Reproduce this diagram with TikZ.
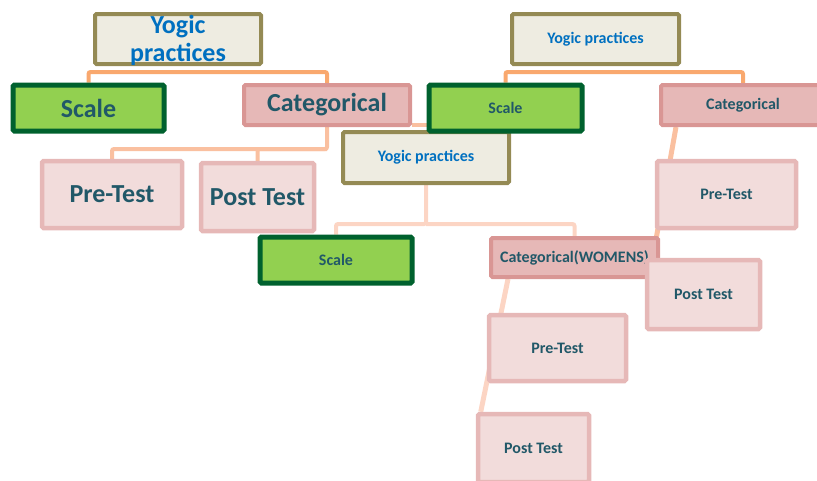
\documentclass[tikz,border=0pt]{standalone}
\usepackage{fontspec}
\setmainfont{Carlito}
\usetikzlibrary{calc,backgrounds}
\definecolor{olivebd}{HTML}{948A54}
\definecolor{creamfill}{HTML}{EEECE1}
\definecolor{yogablue}{HTML}{0070C0}
\definecolor{darkgreen}{HTML}{00612E}
\definecolor{scalegreen}{HTML}{92D050}
\definecolor{catline}{HTML}{D99694}
\definecolor{catfill}{HTML}{E6B8B7}
\definecolor{testline}{HTML}{E6B8B7}
\definecolor{testfill}{HTML}{F2DCDB}
\definecolor{tealtxt}{HTML}{215868}
\definecolor{linkdark}{HTML}{F9A86E}
\definecolor{linkmid}{HTML}{FAC0A0}
\definecolor{linklight}{HTML}{FCD5C4}
\begin{document}
\begin{tikzpicture}[x=1pt,y=-1pt,
    box/.style={rectangle,rounded corners=1.5pt,inner sep=0pt,
      font=\bfseries\fontsize{16}{18}\selectfont,text=tealtxt},
    big/.style={font=\bfseries\fontsize{26}{28}\selectfont},
    yogabox/.style={box,draw=olivebd,fill=creamfill,line width=4pt,text=yogablue},
    scalebox/.style={box,draw=darkgreen,fill=scalegreen,line width=5pt},
    catbox/.style={box,draw=catline,fill=catfill,line width=4pt},
    testbox/.style={box,draw=testline,fill=testfill,line width=4.5pt},
    link1/.style={draw=linkdark,line width=4pt,rounded corners=2pt},
    link2/.style={draw=linkmid,line width=4pt,rounded corners=2pt},
    link3/.style={draw=linklight,line width=4pt,rounded corners=2pt}]
  \clip (0,0) rectangle (817,480);

  % first tree
  \node[yogabox,minimum width=166pt,minimum height=50pt] (yoga1) at (178,39) {};
  \node[big,text=yogablue,align=center] (yoga1txt) at (178,40) {Yogic\\practices};
  \node[scalebox,big,minimum width=151pt,minimum height=46pt] (scale1) at (88.5,108) {Scale};
  \node[catbox,big,minimum width=166pt,minimum height=40pt] (cat1) at (327,105) {Categorical};
  \node[testbox,big,minimum width=140pt,minimum height=67pt] (pre1) at (112,194.5) {Pre-Test};
  \node[testbox,big,minimum width=113pt,minimum height=68pt] (post1) at (257.5,197) {Post Test};

  % third tree
  \node[yogabox,minimum width=166pt,minimum height=51pt] (yoga3) at (426,157.5) {Yogic practices};
  \node[scalebox,minimum width=152pt,minimum height=46pt] (scale3) at (336,260) {Scale};
  \node[catbox,minimum width=167pt,minimum height=39pt] (cat3) at (574.5,257.5) {Categorical(WOMENS)};
  \node[testbox,minimum width=137pt,minimum height=66pt] (pre3) at (557.5,348) {Pre-Test};
  \node[testbox,minimum width=111pt,minimum height=68pt] (post3) at (533.5,448) {Post Test};

  % second tree
  \node[yogabox,minimum width=167pt,minimum height=50pt] (yoga2) at (595.5,39) {Yogic practices};
  \node[scalebox,minimum width=153pt,minimum height=46pt] (scale2) at (505.5,108) {Scale};
  \node[catbox,minimum width=164pt,minimum height=40pt] (cat2) at (743,105) {Categorical};
  \node[testbox,minimum width=139pt,minimum height=67pt] (pre2) at (726.5,194.5) {Pre-Test};
  \node[testbox,minimum width=113pt,minimum height=69pt] (post2) at (703.5,294.5) {Post Test};

  % connectors, behind the boxes
  \begin{scope}[on background layer]
    \coordinate (fork1) at ($(yoga1.south)+(0,6)$);
    \draw[link1] (scale1.north) |- (fork1) -| (cat1.north);
    \coordinate (fork2) at ($(cat1.south)+(0,22)$);
    \draw[link2] (cat1.south) -- (fork2) -| (pre1.north);
    \draw[link2] (fork2) -| (post1.north);
    \draw[link2] (cat1.east |- 0,125) -- (scale2.west |- 0,125);

    \coordinate (fork3) at ($(yoga2.south)+(0,6)$);
    \draw[link1] (scale2.north) |- (fork3) -| (cat2.north);
    \draw[link2,line width=5pt] ($(cat2.south west)+(17,0)$) -- ($(post2.north west)+(8,0)$);

    \coordinate (fork4) at ($(yoga3.south)+(0,39)$);
    \draw[link3] (yoga3.south) -- (fork4) -| (scale3.north);
    \draw[link3] (fork4) -| (cat3.north);
    \draw[link3,line width=5pt] ($(cat3.south west)+(19,0)$) -- ($(post3.north west)+(5,0)$);
  \end{scope}
\end{tikzpicture}
\end{document}
